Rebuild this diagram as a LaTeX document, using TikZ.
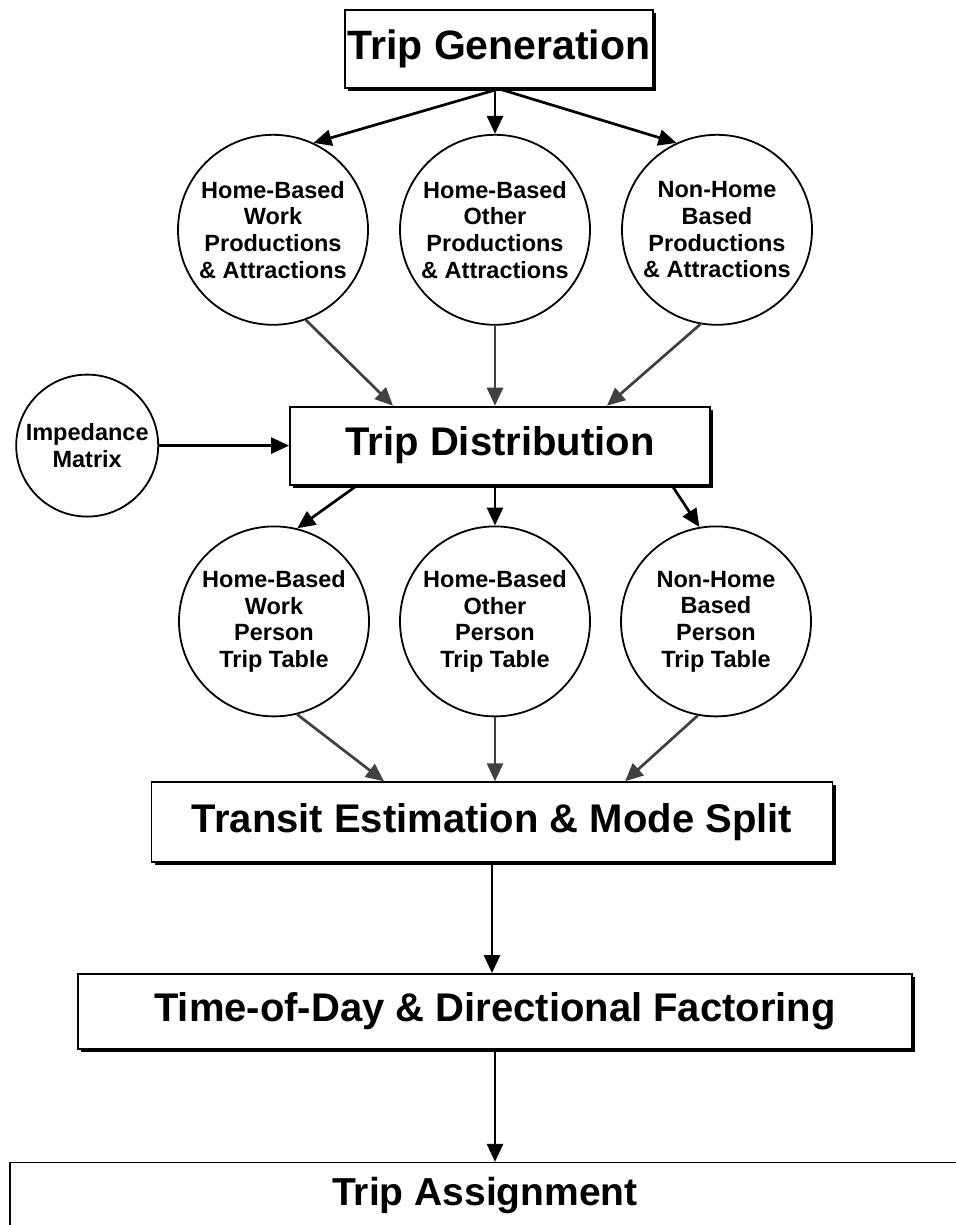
\documentclass[tikz,border=0pt]{standalone}
\usepackage{fontspec}
\setmainfont{Liberation Sans}
\usetikzlibrary{shapes,arrows.meta,positioning,shadows}

\begin{document}
\begin{tikzpicture}[
    x=1pt, y=-1pt,
    >={Triangle[length=18pt, width=16pt]},
    stage/.style={rectangle, draw, line width=1.8pt, fill=white, inner xsep=0pt, text centered, font=\fontsize{40}{48}\selectfont\bfseries, drop shadow={shadow xshift=3pt, shadow yshift=-3pt, fill=black, opacity=1}},
    purpose/.style={circle, draw, line width=1.8pt, fill=white, inner sep=0pt, minimum size=190pt, align=center, font=\fontsize{23.5}{26.7}\selectfont\bfseries},
    flow/.style={->, line width=2.7pt},
    light/.style={->, line width=2.7pt, black!75}
]
\useasboundingbox (0,0) rectangle (955,1225);

% Trip Generation
\node[stage, minimum width=308pt, minimum height=78pt, font=\fontsize{41}{48}\selectfont\bfseries] (tripgen) at (499,49) {Trip Generation};

% Productions & Attractions
\node[purpose, below=45pt of tripgen, xshift=-226pt] (hbwpa) {Home-Based\\Work\\Productions\\\& Attractions};
\node[purpose, below=45pt of tripgen, xshift=-4pt] (hbopa) {Home-Based\\Other\\Productions\\\& Attractions};
\node[purpose, below=45pt of tripgen, xshift=218pt] (nhbpa) {Non-Home\\Based\\Productions\\\& Attractions};

% Trip Distribution
\node[stage, minimum width=420pt, minimum height=78pt, below=80pt of hbopa, xshift=5pt] (tripdist) {Trip Distribution};
\node[purpose, minimum size=142pt, left=130pt of tripdist] (impedance) {Impedance\\Matrix};

% Person Trip Tables
\node[purpose, below=40pt of tripdist, xshift=-226pt] (hbwtt) {Home-Based\\Work\\Person\\Trip Table};
\node[purpose, below=40pt of tripdist, xshift=-5pt] (hbott) {Home-Based\\Other\\Person\\Trip Table};
\node[purpose, below=40pt of tripdist, xshift=216pt] (nhbtt) {Non-Home\\Based\\Person\\Trip Table};

% Mode split and factoring
\node[stage, minimum width=681pt, minimum height=80pt, below=64pt of hbott, xshift=-3pt] (transit) {Transit Estimation \& Mode Split};
\node[stage, minimum width=834pt, minimum height=75pt, below=110pt of transit, xshift=3pt] (todfactor) {Time-of-Day \& Directional Factoring};

% Trip Assignment
\node[rectangle, draw, line width=1.5pt, fill=white, minimum width=950pt, minimum height=66pt, below=112pt of todfactor, xshift=-10pt, font=\fontsize{39}{48}\selectfont\bfseries] (tripassign) {Trip Assignment};

% Connect lines
\draw[flow] (tripgen.south) -- (hbwpa.65);
\draw[flow] (tripgen.south -| hbopa.north) -- (hbopa.north);
\draw[flow] (tripgen.south) -- (nhbpa.115);

\draw[light] (hbwpa.-70) -- ([xshift=-107pt]tripdist.north);
\draw[light] (hbopa.south) -- (hbopa.south |- tripdist.north);
\draw[light] (nhbpa.-100) -- ([xshift=107pt]tripdist.north);
\draw[flow] (impedance.east) -- (impedance.east -| tripdist.west);

\draw[flow] ([xshift=-143pt]tripdist.south) -- (hbwtt.76);
\draw[flow] (hbott.north |- tripdist.south) -- (hbott.north);
\draw[flow] ([xshift=172pt]tripdist.south) -- (nhbtt.100);

\draw[light] (hbwtt.-76) -- ([xshift=-108pt]transit.north);
\draw[light] (hbott.south) -- (hbott.south |- transit.north);
\draw[light] (nhbtt.-101) -- ([xshift=133pt]transit.north);

\draw[flow] (transit.south) -- (transit.south |- todfactor.north);
\draw[flow] (todfactor.south) -- (todfactor.south |- tripassign.north);

\end{tikzpicture}
\end{document}
